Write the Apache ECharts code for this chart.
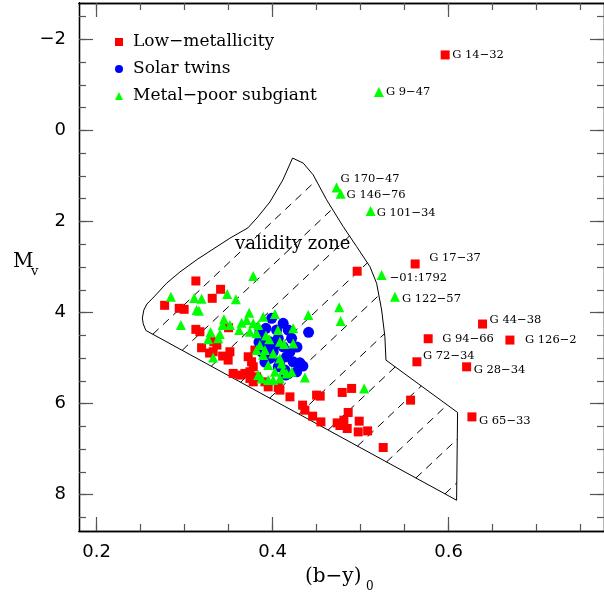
<!DOCTYPE html>
<html>
<head>
<meta charset="utf-8">
<script src="https://cdn.jsdelivr.net/npm/echarts@6/dist/echarts.min.js"></script>
<style>
  html, body { margin: 0; padding: 0; background: #fff; }
  #chart { width: 604px; height: 598px; }
</style>
</head>
<body>
<div id="chart"></div>
<script>
// low-metallicity stars: [b-y, Mv, name]
var lowMetal = [
    [0.5961, -1.659, 'G 14−32'],
    [0.5620, 2.933, 'G 17−37'],
    [0.6386, 4.253, 'G 44−38'],
    [0.5768, 4.576, 'G 94−66'],
    [0.6697, 4.605, 'G 126−2'],
    [0.5640, 5.083, 'G 72−34'],
    [0.6205, 5.193, 'G 28−34'],
    [0.6265, 6.293, 'G 65−33'],
    [0.4961, 3.093, ''], [0.3128, 3.307, ''], [0.3409, 3.490, ''], [0.3314, 3.688, ''],
    [0.2773, 3.842, ''], [0.2939, 3.908, ''], [0.2995, 3.930, ''], [0.3128, 4.370, ''],
    [0.3174, 4.422, ''], [0.3500, 4.334, ''], [0.3333, 4.642, ''], [0.3367, 4.715, ''],
    [0.3193, 4.774, ''], [0.3325, 4.862, ''], [0.3284, 4.891, ''], [0.3432, 4.957, ''],
    [0.3515, 4.862, ''], [0.3495, 5.045, ''], [0.3799, 4.825, ''], [0.3723, 4.972, ''],
    [0.3761, 5.082, ''], [0.3780, 5.193, ''], [0.3742, 5.302, ''], [0.3685, 5.338, ''],
    [0.3628, 5.375, ''], [0.3552, 5.338, ''], [0.3742, 5.448, ''], [0.3780, 5.523, ''],
    [0.3818, 5.413, ''], [0.3913, 5.523, ''], [0.3950, 5.633, ''], [0.4064, 5.646, ''],
    [0.4083, 5.705, ''], [0.4197, 5.853, ''], [0.4500, 5.815, ''], [0.4541, 5.837, ''],
    [0.4791, 5.756, ''], [0.4898, 5.668, ''], [0.4341, 6.035, ''], [0.4367, 6.145, ''],
    [0.4455, 6.277, ''], [0.4549, 6.403, ''], [0.4734, 6.425, ''], [0.4765, 6.482, ''],
    [0.4810, 6.365, ''], [0.4859, 6.196, ''], [0.4848, 6.548, ''], [0.4984, 6.387, ''],
    [0.4973, 6.623, ''], [0.5080, 6.601, ''], [0.5257, 6.966, ''], [0.5568, 5.925, '']
];

// solar twins
var solarTwins = [
    [0.3989, 4.128], [0.4120, 4.237], [0.3924, 4.348], [0.4045, 4.385], [0.4177, 4.385],
    [0.4409, 4.436], [0.3882, 4.568], [0.3969, 4.642], [0.4064, 4.568], [0.4216, 4.568],
    [0.3913, 4.788], [0.4007, 4.862], [0.4120, 4.752], [0.4197, 4.862], [0.3969, 5.008],
    [0.4083, 5.082], [0.4159, 4.972], [0.4234, 5.082], [0.4310, 5.105], [0.4273, 5.303],
    [0.4064, 5.193], [0.3856, 4.422], [0.4140, 5.265], [0.4026, 4.715], [0.3845, 4.649],
    [0.3913, 5.089], [0.4277, 4.759], [0.4344, 5.177], [0.4150, 5.375], [0.3879, 4.869]
];

// metal-poor subgiants
var subgiants = [
    [0.5208, -0.845, 'G 9−47'],
    [0.4727, 1.254, 'G 170−47'],
    [0.4773, 1.393, 'G 146−76'],
    [0.5114, 1.767, 'G 101−34'],
    [0.5239, 3.175, '−01:1792'],
    [0.5390, 3.652, 'G 122−57'],
    [0.4757, 3.886, ''], [0.4773, 4.187, ''], [0.5041, 5.668, ''], [0.3780, 3.197, ''],
    [0.2844, 3.652, ''], [0.3109, 3.681, ''], [0.3193, 3.696, ''], [0.3484, 3.593, ''],
    [0.3583, 3.710, ''], [0.3136, 3.945, ''], [0.3163, 3.960, ''], [0.2958, 4.275, ''],
    [0.3447, 4.150, ''], [0.3432, 4.275, ''], [0.3515, 4.275, ''], [0.3705, 4.165, ''],
    [0.3648, 4.224, ''], [0.3620, 4.385, ''], [0.3295, 4.429, ''], [0.3401, 4.473, ''],
    [0.3382, 4.568, ''], [0.3268, 4.590, ''], [0.3325, 4.986, ''], [0.3734, 4.004, ''],
    [0.3893, 4.092, ''], [0.3780, 4.238, ''], [0.3836, 4.275, ''], [0.3818, 4.458, ''],
    [0.3742, 4.422, ''], [0.3961, 4.590, ''], [0.4060, 4.385, ''], [0.4083, 4.642, ''],
    [0.4234, 4.348, ''], [0.4405, 4.055, ''], [0.3818, 4.825, ''], [0.3913, 4.825, ''],
    [0.3893, 4.935, ''], [0.4007, 4.898, ''], [0.4083, 5.008, ''], [0.4102, 5.118, ''],
    [0.4234, 4.678, ''], [0.3950, 5.155, ''], [0.4026, 5.303, ''], [0.4120, 5.265, ''],
    [0.4216, 5.303, ''], [0.4367, 5.426, ''], [0.3875, 5.448, ''], [0.3950, 5.485, ''],
    [0.4007, 5.485, ''], [0.4083, 5.448, ''], [0.3836, 5.375, ''], [0.4159, 5.338, ''],
    [0.3856, 4.715, ''], [0.4131, 4.693, ''], [0.3924, 4.503, ''], [0.4026, 4.033, '']
];

// validity zone outline
var zone = [
    [0.2560, 4.395], [0.2530, 4.250], [0.2520, 4.120], [0.2537, 3.945], [0.2572, 3.813],
    [0.2651, 3.659], [0.2795, 3.357], [0.2947, 3.109], [0.3151, 2.823], [0.3515, 2.367],
    [0.3719, 2.141], [0.3833, 1.899], [0.3970, 1.569], [0.4117, 1.085], [0.4227, 0.607],
    [0.4348, 0.717], [0.4461, 0.975], [0.4614, 1.525], [0.4802, 2.112], [0.4955, 2.552],
    [0.5106, 2.992], [0.5182, 3.358], [0.5239, 3.945], [0.5276, 4.532], [0.5288, 5.045],
    [0.6102, 6.196], [0.6091, 8.124]
];
// hatching inside the zone: Mv = c - slope * (b-y)
var hatchSlope = 18.2;
var hatchIntercepts = [9.28, 10.24, 11.19, 12.15, 13.10, 14.06, 15.01, 15.97, 16.92, 17.88, 18.83];

var xMajor = [0.2, 0.4, 0.6];
var xMinor = [0.2, 0.25, 0.3, 0.35, 0.4, 0.45, 0.5, 0.55, 0.6, 0.65, 0.7, 0.75];
var yMajor = [-2, 0, 2, 4, 6, 8];
var yMinor = [-2.5, -2, -1.5, -1, -0.5, 0, 0.5, 1, 1.5, 2, 2.5, 3, 3.5, 4, 4.5, 5, 5.5, 6, 6.5, 7, 7.5, 8, 8.5];

var X_MIN = 0.18, X_MAX = 0.7766, Y_MIN = -2.8, Y_MAX = 8.8;

// where each star name sits relative to its marker (px)
var labelOffset = {
    'G 14−32': [7, 0], 'G 9−47': [7, 0], 'G 170−47': [4, -9], 'G 146−76': [6, 1],
    'G 101−34': [6, 2], 'G 17−37': [14, -6], '−01:1792': [8, 3], 'G 122−57': [7, 2],
    'G 44−38': [7, -4], 'G 94−66': [14, 0], 'G 126−2': [15, 0], 'G 72−34': [6, -6],
    'G 28−34': [7, 3], 'G 65−33': [7, 4]
};

function pointData(list, size) {
    return list.map(function(p) {
        var item = { value: [p[0], p[1]], name: p[2] || '' };
        if (p[2]) {
            var o = labelOffset[p[2]] || [7, 0];
            item.label = {
                show: true,
                formatter: p[2],
                position: [size / 2 + o[0], size / 2 + o[1]],
                align: 'left',
                verticalAlign: 'middle',
                fontFamily: 'DejaVu Serif',
                fontSize: 11.5,
                color: '#000'
            };
        }
        return item;
    });
}

function hatchSegments(c) {
    var hits = [];
    for (var i = 0; i < zone.length; i++) {
        var a = zone[i], b = zone[(i + 1) % zone.length];
        var fa = a[1] + hatchSlope * a[0] - c, fb = b[1] + hatchSlope * b[0] - c;
        if ((fa < 0) !== (fb < 0)) {
            var t = fa / (fa - fb);
            hits.push([a[0] + t * (b[0] - a[0]), a[1] + t * (b[1] - a[1])]);
        }
    }
    hits.sort(function(p, q) { return p[0] - q[0]; });
    var segs = [];
    for (var k = 0; k + 1 < hits.length; k += 2) segs.push([hits[k], hits[k + 1]]);
    return segs;
}

function xAxis(pos, ticks, len, labels) {
    return {
        type: 'value', position: pos, min: X_MIN, max: X_MAX,
        axisLine: { show: true, onZero: false, lineStyle: { color: '#000', width: 1.3 } },
        axisTick: { show: true, inside: true, length: len, customValues: ticks, lineStyle: { color: '#555', width: 1.2 } },
        axisLabel: { show: labels, customValues: ticks, margin: 12, fontFamily: 'DejaVu Sans', fontSize: 18, color: '#000' },
        splitLine: { show: false }
    };
}

function yAxis(pos, ticks, len, labels) {
    return {
        type: 'value', position: pos, min: Y_MIN, max: Y_MAX, inverse: true,
        axisLine: { show: true, onZero: false, lineStyle: { color: '#000', width: 1.3 } },
        axisTick: { show: true, inside: true, length: len, customValues: ticks, lineStyle: { color: '#555', width: 1.2 } },
        axisLabel: {
            show: labels, customValues: ticks, margin: 13, fontFamily: 'DejaVu Sans', fontSize: 18, color: '#000',
            formatter: function(v) { return String(v).replace('-', '−'); }
        },
        splitLine: { show: false }
    };
}

var series = [];

series.push({
    type: 'line', name: 'zone', data: zone.concat([zone[0]]),
    symbol: 'none', silent: true, z: 1,
    lineStyle: { color: '#000', width: 1 }
});

hatchIntercepts.forEach(function(c) {
    hatchSegments(c).forEach(function(seg) {
        series.push({
            type: 'line', name: 'hatch', data: seg,
            symbol: 'none', silent: true, z: 1,
            lineStyle: { color: '#000', width: 1, type: [8, 6] }
        });
    });
});

series.push({
    type: 'scatter', name: 'Low−metallicity', symbol: 'rect', symbolSize: 9,
    itemStyle: { color: '#ff0000', opacity: 1 }, z: 3,
    data: pointData(lowMetal, 9)
});
series.push({
    type: 'scatter', name: 'Solar twins', symbol: 'circle', symbolSize: 11,
    itemStyle: { color: '#0000ff', opacity: 1 }, z: 4,
    data: solarTwins
});
series.push({
    type: 'scatter', name: 'Metal−poor subgiant', symbol: 'triangle', symbolSize: 10,
    itemStyle: { color: '#00ff00', opacity: 1 }, z: 5,
    data: pointData(subgiants, 10)
});

var chart = echarts.init(document.getElementById('chart'), null, { renderer: 'canvas' });

chart.setOption({
    animation: false,
    backgroundColor: '#fff',
    grid: { left: 79, right: 0, top: 3, bottom: 67 },
    xAxis: [
        xAxis('bottom', xMajor, 14, true),
        xAxis('bottom', xMinor, 7, false),
        xAxis('top', xMajor, 14, false),
        xAxis('top', xMinor, 7, false)
    ],
    yAxis: [
        yAxis('left', yMajor, 14, true),
        yAxis('left', yMinor, 7, false),
        yAxis('right', yMajor, 14, false),
        yAxis('right', yMinor, 7, false)
    ],
    legend: {
        data: ['Low−metallicity', 'Solar twins', 'Metal−poor subgiant'],
        orient: 'vertical', left: 110, top: 28,
        itemWidth: 8, itemHeight: 8, itemGap: 9,
        textStyle: { fontFamily: 'DejaVu Serif', fontSize: 17, color: '#000', lineHeight: 18, padding: [0, 0, 0, 5] }
    },
    graphic: [
        { type: 'text', left: 235, top: 235, style: { text: 'validity zone', font: '18px "DejaVu Serif"', fill: '#000' } },
        { type: 'text', left: 13, top: 252, style: { text: 'M', font: '20px "DejaVu Serif"', fill: '#000' } },
        { type: 'text', left: 31, top: 265, style: { text: 'v', font: '13px "DejaVu Serif"', fill: '#000' } },
        { type: 'text', left: 305, top: 567, style: { text: '(b−y)', font: '20px "DejaVu Serif"', fill: '#000' } },
        { type: 'text', left: 366, top: 581, style: { text: '0', font: '12px "DejaVu Serif"', fill: '#000' } }
    ],
    series: series
});
</script>
</body>
</html>
